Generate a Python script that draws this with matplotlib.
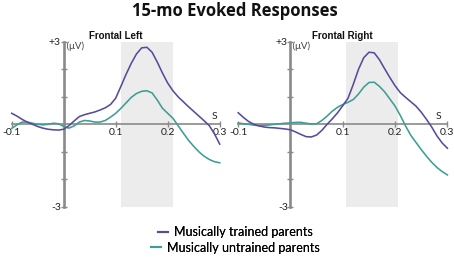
import matplotlib
matplotlib.use("Agg")
import matplotlib.pyplot as plt
from matplotlib.lines import Line2D

W, H = 454, 260

# ---- data ----
time_s = [-0.10, -0.09, -0.08, -0.07, -0.06, -0.05, -0.04, -0.03, -0.02, -0.01,
          0.00, 0.01, 0.02, 0.03, 0.04, 0.05, 0.06, 0.07, 0.08, 0.09,
          0.10, 0.11, 0.12, 0.13, 0.14, 0.15, 0.16, 0.17, 0.18, 0.19,
          0.20, 0.21, 0.22, 0.23, 0.24, 0.25, 0.26, 0.27, 0.28, 0.29, 0.30]

left_trained = [0.40, 0.30, 0.18, 0.08, 0.00, -0.08, -0.14, -0.18, -0.20, -0.21,
                -0.18, -0.05, 0.12, 0.28, 0.35, 0.40, 0.45, 0.52, 0.60, 0.72,
                0.95, 1.38, 1.82, 2.22, 2.56, 2.78, 2.80, 2.62, 2.26, 1.86,
                1.50, 1.22, 1.00, 0.82, 0.64, 0.47, 0.30, 0.13, -0.05, -0.35, -0.72]
left_untrained = [-0.15, -0.02, 0.08, 0.08, 0.04, 0.00, -0.02, 0.00, 0.04, 0.02,
                  -0.08, -0.14, -0.06, 0.08, 0.14, 0.12, 0.08, 0.08, 0.14, 0.26,
                  0.40, 0.58, 0.78, 0.98, 1.12, 1.20, 1.22, 1.14, 0.88, 0.58,
                  0.40, 0.22, -0.05, -0.32, -0.58, -0.80, -1.00, -1.16, -1.28, -1.36, -1.40]
right_trained = [0.42, 0.25, 0.10, 0.00, -0.06, -0.10, -0.12, -0.13, -0.15, -0.17,
                 -0.20, -0.28, -0.37, -0.45, -0.46, -0.39, -0.22, 0.00, 0.20, 0.42,
                 0.68, 0.95, 1.45, 2.00, 2.42, 2.62, 2.60, 2.35, 2.02, 1.70,
                 1.40, 1.15, 0.98, 0.82, 0.66, 0.44, 0.18, -0.10, -0.42, -0.68, -0.87]
right_untrained = [0.05, 0.02, 0.00, -0.03, -0.05, -0.04, -0.02, 0.00, 0.02, 0.04,
                   0.05, 0.07, 0.07, 0.04, 0.01, 0.02, 0.14, 0.30, 0.48, 0.62,
                   0.72, 0.80, 0.90, 1.10, 1.35, 1.52, 1.53, 1.38, 1.18, 0.92,
                   0.66, 0.32, -0.06, -0.40, -0.66, -0.92, -1.16, -1.38, -1.57, -1.72, -1.84]

panel_titles = ["Frontal Left", "Frontal Right"]
windows = [(0.111, 0.211), (0.106, 0.206)]
series_labels = ["Musically trained parents", "Musically untrained parents"]
xtick_vals = [-0.1, 0.1, 0.2, 0.3]
xtick_labels = ["-0.1", "0.1", "0.2", "0.3"]
ytick_vals = [-3, -2, -1, 1, 2, 3]
ytick_labels = ["-3", "", "", "", "", "+3"]

C_TRAINED = "#5b4a9a"
C_UNTRAINED = "#3d9e94"
AXC = "#8a8a8a"
SHADE = "#ececec"

fig = plt.figure(figsize=(W / 100, H / 100), dpi=100)

def add_axes_px(x0_px, sx, y0_px, sy, xlim, ylim):
    left = x0_px + xlim[0] * sx
    right = x0_px + xlim[1] * sx
    top = y0_px - ylim[1] * sy
    bottom = y0_px - ylim[0] * sy
    ax = fig.add_axes([left / W, 1 - bottom / H, (right - left) / W, (bottom - top) / H])
    ax.set_xlim(*xlim)
    ax.set_ylim(*ylim)
    return ax

xlim = (-0.105, 0.312)
ylim = (-3.1, 3.1)
axes = [add_axes_px(63.7, 520, 124.3, 27.5, xlim, ylim),
        add_axes_px(290.5, 523, 124.3, 27.5, xlim, ylim)]
data = [(left_trained, left_untrained), (right_trained, right_untrained)]
s_pos = [0.29, 0.283]

for ax, (tr, un), win, ttl, sx in zip(axes, data, windows, panel_titles, s_pos):
    ax.patch.set_alpha(0)
    ax.axvspan(win[0], win[1], ymin=(-3 - ylim[0]) / (ylim[1] - ylim[0]),
               ymax=(3 - ylim[0]) / (ylim[1] - ylim[0]), color=SHADE, lw=0, zorder=0)
    ax.plot(time_s, un, color=C_UNTRAINED, lw=1.15, zorder=3)
    ax.plot(time_s, tr, color=C_TRAINED, lw=1.15, zorder=4)
    for s in ["top", "right"]:
        ax.spines[s].set_visible(False)
    ax.spines["left"].set_position(("data", 0))
    ax.spines["bottom"].set_position(("data", 0))
    ax.spines["left"].set_bounds(-3, 3)
    ax.spines["bottom"].set_bounds(-0.1, 0.3)
    ax.spines["left"].set_color(AXC)
    ax.spines["bottom"].set_color(AXC)
    ax.spines["left"].set_linewidth(1.9)
    ax.spines["bottom"].set_linewidth(1.2)
    ax.spines["left"].set_zorder(2)
    ax.spines["bottom"].set_zorder(2)
    ax.set_xticks(xtick_vals)
    ax.set_xticklabels(xtick_labels)
    ax.set_yticks(ytick_vals)
    ax.set_yticklabels(ytick_labels)
    ax.tick_params(axis="both", direction="inout", length=4, width=1, color=AXC,
                   labelsize=7.5, labelcolor="#222222")
    ax.tick_params(axis="x", pad=0.5)
    ax.tick_params(axis="y", pad=0)
    for lab in ax.get_xticklabels() + ax.get_yticklabels():
        lab.set_family("Lato")
    ax.text(0.0, 3.0, " (\u03bcV)", ha="left", va="top", fontsize=7, family="Lato",
            color="#444444")
    ax.text(sx, 0.12, "S", ha="center", va="bottom", fontsize=7.5, family="Lato",
            color="#222222")
    ax.text(0.10, 3.22, ttl, ha="center", va="center", fontsize=7, fontweight="bold",
            family="Liberation Sans", color="#111111")

fig.text(235 / W, 1 - 11.5 / H, "15-mo Evoked Responses", ha="center", va="center",
         fontsize=12, fontweight="bold", family="Open Sans", color="#111111")

for lab, col, ypx in zip(series_labels, [C_TRAINED, C_UNTRAINED], [232.5, 247.5]):
    h = Line2D([], [], color=col, lw=1.5)
    leg = fig.legend([h], [lab], loc="center", bbox_to_anchor=(235 / W, 1 - ypx / H),
                     frameon=False, handlelength=0.8, handletextpad=0.5,
                     borderpad=0, borderaxespad=0,
                     prop={"family": "Lato", "size": 9})
    fig.add_artist(leg)

fig.savefig("out.png", dpi=100)
